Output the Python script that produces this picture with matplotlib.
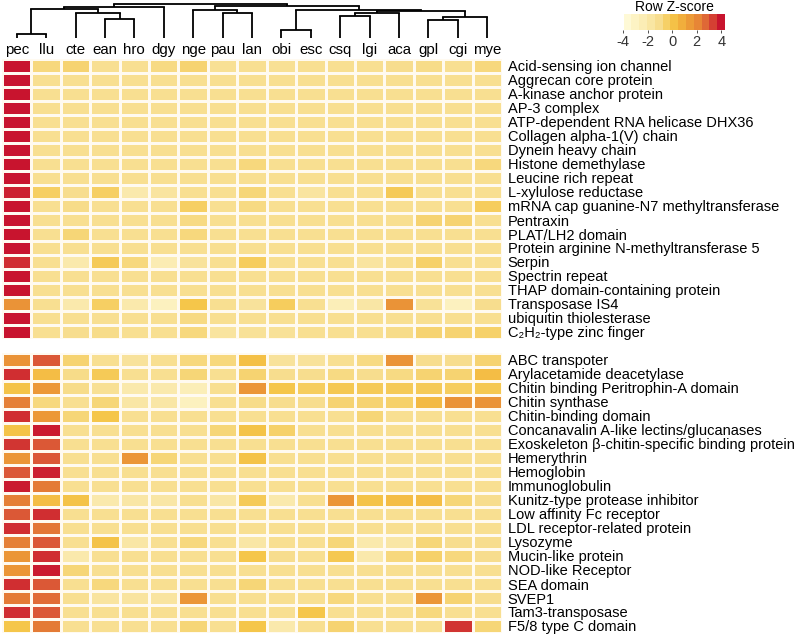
import numpy as np
import matplotlib
matplotlib.use("Agg")
import matplotlib.pyplot as plt
from matplotlib.colors import LinearSegmentedColormap

plt.rcParams["font.family"] = ["Liberation Sans", "DejaVu Sans"]

W, H = 800, 639

species = ["pec", "llu", "cte", "ean", "hro", "dgy", "nge", "pau", "lan",
           "obi", "esc", "csq", "lgi", "aca", "gpl", "cgi", "mye"]

# column dendrogram: (left node, right node, height); leaves are 0..16,
# merged clusters are numbered from 17 upwards in the order listed
col_linkage = [
    (0, 1, 4),        # 17 pec+llu
    (3, 4, 19),       # 18 ean+hro
    (2, 18, 25),      # 19 cte+18
    (17, 19, 28.7),   # 20
    (20, 5, 31.5),    # 21 +dgy
    (7, 8, 25),       # 22 pau+lan
    (6, 22, 28.5),    # 23 nge+22
    (9, 10, 8),       # 24 obi+esc
    (11, 12, 22),     # 25 csq+lgi
    (25, 13, 25),     # 26 +aca
    (14, 15, 18),     # 27 gpl+cgi
    (27, 16, 21),     # 28 +mye
    (26, 28, 27.3),   # 29
    (24, 29, 28.5),   # 30
    (23, 30, 32.2),   # 31
    (21, 31, 34.3),   # 32 root
]

top_labels = [
    "Acid-sensing ion channel", "Aggrecan core protein",
    "A-kinase anchor protein", "AP-3 complex",
    "ATP-dependent RNA helicase DHX36", "Collagen alpha-1(V) chain",
    "Dynein heavy chain", "Histone demethylase", "Leucine rich repeat",
    "L-xylulose reductase", "mRNA cap guanine-N7 methyltransferase",
    "Pentraxin", "PLAT/LH2 domain", "Protein arginine N-methyltransferase 5",
    "Serpin", "Spectrin repeat", "THAP domain-containing protein",
    "Transposase IS4", "ubiquitin thiolesterase", "C\u2082H\u2082-type zinc finger",
]

bottom_labels = [
    "ABC transpoter", "Arylacetamide deacetylase",
    "Chitin binding Peritrophin-A domain", "Chitin synthase",
    "Chitin-binding domain", "Concanavalin A-like lectins/glucanases",
    "Exoskeleton \u03b2-chitin-specific binding protein", "Hemerythrin",
    "Hemoglobin", "Immunoglobulin", "Kunitz-type protease inhibitor",
    "Low affinity Fc receptor", "LDL receptor-related protein", "Lysozyme",
    "Mucin-like protein", "NOD-like Receptor", "SEA domain", "SVEP1",
    "Tam3-transposase", "F5/8 type C domain",
]

# row z-scores, columns in the order of `species`
top_values = [
    [4.0, -0.8, -0.6, -1.2, -1.2, -0.9, -0.6, -1.3, -1.2, -1.3, -1.2, -1.2, -1.2, -1.1, -1.0, -1.2, -0.8],
    [4.0, -1.2, -1.2, -1.2, -1.2, -1.2, -1.2, -1.2, -1.2, -1.2, -1.2, -1.2, -1.2, -1.2, -1.2, -1.2, -1.2],
    [4.0, -1.2, -1.2, -1.2, -1.2, -1.2, -1.2, -1.2, -1.2, -1.2, -1.2, -1.2, -1.2, -1.2, -1.2, -1.2, -1.2],
    [4.0, -1.2, -1.2, -1.2, -1.2, -1.2, -1.2, -1.2, -1.2, -1.2, -1.2, -1.2, -1.2, -1.2, -1.2, -1.2, -1.2],
    [4.0, -1.2, -1.2, -1.2, -1.2, -1.2, -1.2, -1.2, -1.2, -1.2, -1.2, -1.2, -1.2, -1.2, -1.2, -1.2, -1.2],
    [4.0, -1.2, -1.2, -1.2, -1.2, -1.2, -1.2, -1.2, -1.2, -1.2, -1.2, -1.2, -1.2, -1.2, -1.2, -1.2, -1.2],
    [4.0, -1.2, -1.2, -1.2, -1.2, -1.2, -1.2, -1.2, -1.2, -1.2, -1.2, -1.2, -1.2, -1.2, -1.2, -1.2, -1.2],
    [4.0, -1.2, -1.2, -1.2, -1.2, -1.2, -1.2, -1.2, -0.8, -1.2, -1.2, -1.2, -1.2, -1.2, -1.2, -1.2, -0.8],
    [4.0, -1.2, -1.2, -1.2, -1.2, -1.2, -1.2, -1.2, -1.2, -1.2, -1.2, -1.2, -1.2, -1.2, -1.2, -1.2, -1.2],
    [3.8, -0.4, -1.1, -0.4, -2.0, -1.6, -1.2, -1.2, -0.7, -1.2, -1.6, -1.2, -1.2, -0.2, -1.2, -1.2, -1.2],
    [4.0, -1.2, -1.0, -1.2, -1.2, -1.2, -0.4, -1.2, -0.9, -1.2, -1.2, -1.2, -1.2, -1.2, -1.2, -1.2, -0.3],
    [4.0, -1.2, -1.2, -1.2, -1.2, -1.2, -0.9, -1.2, -1.2, -1.2, -1.2, -1.2, -1.2, -1.2, -0.6, -0.6, -1.2],
    [4.0, -1.2, -0.7, -1.2, -1.2, -1.2, -0.8, -1.2, -1.2, -1.2, -1.2, -1.2, -1.2, -1.2, -1.2, -1.2, -1.2],
    [4.0, -1.2, -1.2, -1.2, -1.2, -1.2, -1.2, -1.2, -1.2, -1.2, -1.2, -1.2, -1.2, -1.2, -1.2, -1.2, -1.2],
    [3.6, -1.2, -2.0, -0.2, -0.8, -2.3, -1.5, -1.2, -0.3, -1.2, -1.2, -1.2, -1.6, -1.2, -0.5, -1.2, -1.2],
    [4.0, -1.2, -1.2, -1.2, -1.2, -1.2, -1.2, -1.2, -1.2, -1.2, -1.2, -1.2, -1.2, -1.2, -1.2, -1.2, -1.2],
    [4.0, -1.2, -1.2, -1.2, -1.2, -1.2, -1.2, -1.2, -1.2, -1.2, -1.2, -1.2, -1.2, -1.2, -1.2, -1.2, -1.2],
    [1.7, -1.2, -2.0, -0.4, -2.0, -2.8, 0.0, -1.2, -1.5, -0.3, -1.2, -2.5, -1.8, 1.7, -1.4, -2.8, -1.1],
    [4.0, -1.2, -1.2, -1.2, -1.2, -1.2, -0.9, -1.2, -1.2, -1.2, -1.2, -1.2, -1.2, -1.2, -1.2, -1.2, -1.2],
    [4.0, -1.2, -1.1, -1.0, -1.2, -1.2, -0.8, -1.6, -1.4, -1.4, -1.2, -1.2, -1.2, -1.0, -0.6, -0.6, -0.5],
]

bottom_values = [
    [1.7, 3.0, -0.6, -1.2, -1.5, -1.2, -0.8, -0.8, 0.2, -1.5, -1.5, -1.2, -0.9, 1.7, -1.1, -1.1, -0.6],
    [3.6, 0.3, -1.0, -0.2, -1.2, -1.2, -0.7, -1.2, -0.6, -1.1, -1.1, -0.9, -1.1, -0.9, -0.6, -0.6, 0.3],
    [0.1, 1.5, -1.0, -1.3, -2.0, -2.0, -2.5, -1.2, 1.6, 0.0, -0.3, -0.1, -0.2, -0.2, -0.2, -0.3, -0.1],
    [2.2, -0.8, -1.2, -0.7, -1.8, -1.8, -2.8, -1.2, -1.0, -1.1, -1.1, -0.6, -0.6, -0.5, 0.4, 1.7, 1.7],
    [3.6, 1.5, -0.7, 0.0, -1.2, -1.2, -1.2, -1.2, -1.2, -1.2, -1.2, -1.2, -0.7, -1.2, -1.2, -1.2, -1.2],
    [0.1, 3.9, -1.2, -1.2, -1.2, -1.2, -1.2, -0.7, 0.1, -0.5, -1.2, -1.2, -1.2, -1.2, -1.2, -1.2, -1.2],
    [3.5, 3.0, -1.2, -1.2, -1.2, -1.2, -1.2, -1.2, -1.2, -1.2, -1.2, -1.2, -1.2, -1.2, -1.2, -1.2, -1.2],
    [1.6, 3.0, -1.2, -1.2, 1.6, -0.7, -1.2, -1.2, 0.1, -1.2, -1.2, -1.2, -1.2, -1.2, -1.2, -1.2, -1.2],
    [3.0, 3.8, -1.2, -1.2, -1.2, -1.2, -1.2, -1.2, -1.2, -1.2, -1.2, -1.2, -1.2, -1.2, -1.2, -1.2, -1.2],
    [3.9, 2.3, -1.2, -1.2, -1.2, -1.2, -1.2, -1.2, -1.2, -1.2, -1.2, -1.2, -1.2, -1.2, -1.2, -1.2, -1.2],
    [2.2, 0.3, 0.1, -2.0, -1.8, -1.8, -1.2, -1.8, -0.2, -2.0, -1.2, 1.6, 0.1, 0.3, 0.3, -0.7, -1.1],
    [3.0, 3.6, -1.2, -1.2, -1.2, -1.2, -1.2, -1.2, -1.2, -1.2, -1.2, -1.2, -1.2, -1.2, -1.2, -1.2, -1.2],
    [3.6, 2.4, -1.2, -1.2, -1.2, -1.2, -1.2, -1.2, -1.2, -1.2, -1.2, -1.2, -1.2, -1.2, -1.2, -1.2, -1.2],
    [2.2, 3.0, -1.2, 0.1, -1.8, -1.2, -0.8, -1.2, -1.8, -1.2, -1.2, -0.7, -2.0, -1.8, -0.7, -1.1, -1.1],
    [1.6, 3.6, -2.0, -1.2, -1.2, -1.2, -1.2, -1.2, 0.0, -1.1, -1.2, -0.1, -2.0, -0.8, -0.5, -0.8, -1.1],
    [1.6, 3.9, -0.7, -1.2, -1.2, -1.2, -1.2, -1.2, -1.2, -1.2, -1.2, -1.2, -1.2, -1.2, -1.2, -1.2, -1.2],
    [3.6, 3.0, -1.2, -0.8, -1.2, -1.2, -1.2, -1.2, -0.7, -1.2, -1.2, -1.2, -1.2, -1.2, -1.2, -1.2, -1.2],
    [2.3, 2.6, -1.2, -1.6, -1.6, -1.6, 1.6, -1.2, -1.2, -1.2, -1.2, -0.8, -1.2, -1.2, 1.6, -0.6, -1.1],
    [3.6, 3.0, -1.2, -1.2, -1.2, -1.2, -1.2, -1.2, -1.2, -1.2, 0.0, -1.2, -1.2, -1.2, -0.8, -1.2, -1.2],
    [0.0, 2.3, -1.2, -1.2, -1.2, -1.2, -0.7, -1.2, 0.0, -2.0, -1.2, -0.6, -1.2, -1.2, -1.2, 3.5, -0.7],
]

cmap_anchors = [-4, -3, -2, -1, 0, 1, 2, 3, 4]
cmap_colors = ["#fffce0", "#fdf3c4", "#fae9ac", "#f7dc8a", "#f5c64a",
               "#f0a838", "#e88a36", "#dc5a36", "#c8142e"]

cmap = LinearSegmentedColormap.from_list(
    "zscore",
    [((a + 4) / 8, c) for a, c in zip(cmap_anchors, cmap_colors)],
)


def add_px_axes(fig, left, top, right, bottom):
    """Axes placed by pixel box (origin at the top-left of the figure)."""
    return fig.add_axes([left / W, 1 - bottom / H,
                         (right - left) / W, (bottom - top) / H])


def draw_block(ax, values, labels, col_labels=None):
    data = np.array(values)
    ax.pcolormesh(data, cmap=cmap, vmin=-4, vmax=4,
                  edgecolors="#fffaf0", linewidth=0.8)
    ax.set_xlim(0, data.shape[1])
    ax.set_ylim(data.shape[0], 0)
    ax.yaxis.tick_right()
    ax.set_yticks(np.arange(len(labels)) + 0.5, labels)
    ax.tick_params(axis="y", length=0, pad=4, labelsize=10.5)
    if col_labels is None:
        ax.set_xticks([])
    else:
        ax.xaxis.tick_top()
        ax.set_xticks(np.arange(len(col_labels)) + 0.5, col_labels)
        ax.tick_params(axis="x", length=0, pad=1.5, labelsize=10.8)
    for spine in ax.spines.values():
        spine.set_visible(False)


def draw_dendrogram(ax, linkage, n_leaves):
    xs = [i + 0.5 for i in range(n_leaves)]
    hs = [0.0] * n_leaves
    for left, right, h in linkage:
        for child in (left, right):
            ax.plot([xs[child], xs[child]], [hs[child], h],
                    color="black", linewidth=1.3, solid_capstyle="butt")
        ax.plot([xs[left], xs[right]], [h, h],
                color="black", linewidth=1.3, solid_capstyle="projecting")
        xs.append((xs[left] + xs[right]) / 2)
        hs.append(h)
    ax.set_xlim(0, n_leaves)
    ax.set_ylim(0, 36)
    ax.axis("off")


fig = plt.figure(figsize=(W / 100, H / 100), dpi=100)

ax_den = add_px_axes(fig, 2, 2, 502, 38)
draw_dendrogram(ax_den, col_linkage, len(species))

ax_top = add_px_axes(fig, 2, 59, 502, 339)
draw_block(ax_top, top_values, top_labels, species)

ax_bottom = add_px_axes(fig, 2, 353, 502, 633)
draw_block(ax_bottom, bottom_values, bottom_labels)

# colour key
ax_key = add_px_axes(fig, 623, 14, 725, 30)
key_lo, key_hi, n_steps = -3.95, 4.3, 13
edges = np.linspace(key_lo, key_hi, n_steps + 1)
centres = (edges[:-1] + edges[1:]) / 2
ax_key.pcolormesh(edges, [0, 1], centres[np.newaxis, :],
                  cmap=cmap, vmin=-4, vmax=4)
ax_key.set_xlim(key_lo, key_hi)
ax_key.set_ylim(0, 1)
ax_key.set_yticks([])
ax_key.set_xticks([-4, -2, 0, 2, 4], ["-4", "-2", "0", "2", "4"])
ax_key.tick_params(axis="x", length=2, width=0.6, pad=1.5, labelsize=10.5,
                   colors="#333333")
for spine in ax_key.spines.values():
    spine.set_visible(False)
ax_key.set_title("Row Z-score", fontsize=10, pad=2)

fig.savefig("out.png", dpi=100)
plt.close(fig)
